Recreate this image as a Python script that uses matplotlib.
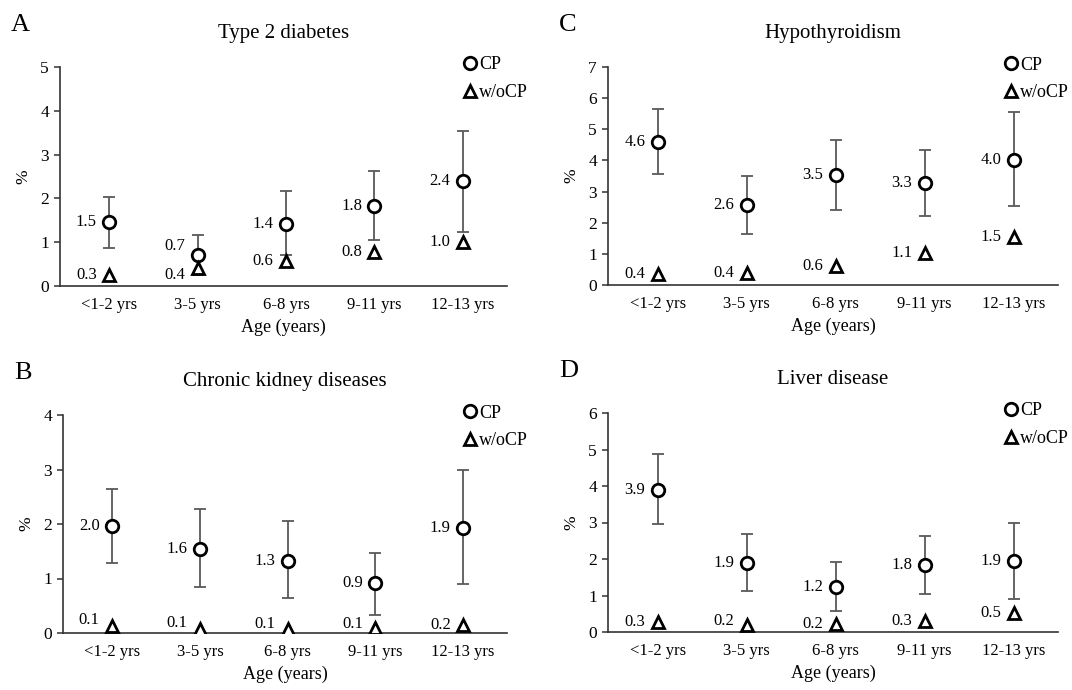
import matplotlib
matplotlib.use("Agg")
import matplotlib.pyplot as plt

plt.rcParams['font.family'] = ['Liberation Serif', 'DejaVu Serif']

ages = ["<1-2 yrs", "3-5 yrs", "6-8 yrs", "9-11 yrs", "12-13 yrs"]

# Type 2 diabetes
t2d_cp = [1.45, 0.70, 1.42, 1.82, 2.40]
t2d_cp_lo = [0.87, 0.25, 0.70, 1.04, 1.24]
t2d_cp_hi = [2.04, 1.17, 2.16, 2.62, 3.55]
t2d_wo = [0.26, 0.40, 0.58, 0.78, 1.00]
t2d_cp_lab = ["1.5", "0.7", "1.4", "1.8", "2.4"]
t2d_wo_lab = ["0.3", "0.4", "0.6", "0.8", "1.0"]

# Chronic kidney diseases
ckd_cp = [1.97, 1.55, 1.33, 0.91, 1.93]
ckd_cp_lo = [1.28, 0.84, 0.64, 0.33, 0.89]
ckd_cp_hi = [2.64, 2.27, 2.05, 1.47, 2.99]
ckd_wo = [0.13, 0.08, 0.08, 0.10, 0.14]
ckd_cp_lab = ["2.0", "1.6", "1.3", "0.9", "1.9"]
ckd_wo_lab = ["0.1", "0.1", "0.1", "0.1", "0.2"]

# Hypothyroidism
hyp_cp = [4.60, 2.57, 3.53, 3.27, 4.02]
hyp_cp_lo = [3.57, 1.65, 2.42, 2.22, 2.54]
hyp_cp_hi = [5.65, 3.50, 4.67, 4.35, 5.55]
hyp_wo = [0.35, 0.37, 0.62, 1.03, 1.53]
hyp_cp_lab = ["4.6", "2.6", "3.5", "3.3", "4.0"]
hyp_wo_lab = ["0.4", "0.4", "0.6", "1.1", "1.5"]

# Liver disease
liv_cp = [3.90, 1.88, 1.24, 1.83, 1.94]
liv_cp_lo = [2.96, 1.11, 0.58, 1.05, 0.90]
liv_cp_hi = [4.87, 2.68, 1.92, 2.62, 3.00]
liv_wo = [0.27, 0.18, 0.22, 0.30, 0.53]
liv_cp_lab = ["3.9", "1.9", "1.2", "1.8", "1.9"]
liv_wo_lab = ["0.3", "0.2", "0.2", "0.3", "0.5"]

W, H = 1072, 690
PT = 72.0 / 100  # points per pixel


def draw_panel(ax, letter, title, ymax, cp, lo, hi, wo, cp_lab, wo_lab,
               leg_x, cp_nudge=None, wo_nudge=None):
    cp_nudge = cp_nudge or {}
    wo_nudge = wo_nudge or {}
    x = list(range(len(ages)))
    err = [[c - l for c, l in zip(cp, lo)], [h - c for c, h in zip(cp, hi)]]
    ax.errorbar(x, cp, yerr=err, fmt='none', ecolor='#595959', elinewidth=1.3,
                capsize=4, capthick=1.3, zorder=1)
    ax.plot(x, cp, 'o', ms=9, mfc='white', mec='black', mew=2, ls='none',
            label='CP', zorder=3)
    ax.plot(x, wo, '^', ms=8, mfc='white', mec='black', mew=2, ls='none',
            label='w/oCP', zorder=3)
    for i, (v, s) in enumerate(zip(cp, cp_lab)):
        dy = cp_nudge.get(i, 0)
        ax.annotate(s, (i, v), xytext=(-9, dy * PT), textcoords='offset points',
                    ha='right', va='center', fontsize=12, zorder=4)
    for i, (v, s) in enumerate(zip(wo, wo_lab)):
        dy = wo_nudge.get(i, 0)
        ax.annotate(s, (i, v), xytext=(-9, dy * PT), textcoords='offset points',
                    ha='right', va='center', fontsize=12, zorder=4)

    ax.set_xlim(-0.56, 4.5)
    ax.set_ylim(0, ymax)
    ax.set_yticks(range(ymax + 1))
    ax.set_xticks(x)
    ax.set_xticklabels(ages)
    ax.tick_params(axis='x', length=0, labelsize=12, pad=8)
    ax.tick_params(axis='y', length=4, width=1.1, labelsize=12.5, pad=4,
                   color='#333333')
    for s in ['top', 'right']:
        ax.spines[s].set_visible(False)
    for s in ['left', 'bottom']:
        ax.spines[s].set_color('#333333')
        ax.spines[s].set_linewidth(1.2)
    ax.set_ylabel('%', fontsize=12.5, labelpad=6)
    ax.set_xlabel('Age (years)', fontsize=13, labelpad=4)
    ax.set_title(title, fontsize=15, pad=21)
    ax.annotate(letter, (0, 1), xycoords='axes fraction',
                xytext=(-49 * PT, 42 * PT), textcoords='offset points',
                fontsize=19, ha='left', va='center')
    # legend: marker centre sits leg_x pixels from the axes left edge
    ax_w = ax.get_position().width * W
    ax.legend(loc='upper left', bbox_to_anchor=((leg_x - 9) / ax_w, 1.048),
              frameon=False, fontsize=13, handletextpad=0.0,
              labelspacing=0.6, handlelength=1.0, borderaxespad=0,
              borderpad=0)


fig = plt.figure(figsize=(10.72, 6.9), dpi=100)


def box(l, r, b, t):
    return [l / W, 1 - b / H, (r - l) / W, (b - t) / H]


axA = fig.add_axes(box(60, 507, 286, 67))
axC = fig.add_axes(box(608, 1058, 285, 67))
axB = fig.add_axes(box(63, 507, 633, 415))
axD = fig.add_axes(box(608, 1058, 632, 413))

draw_panel(axA, 'A', 'Type 2 diabetes', 5, t2d_cp, t2d_cp_lo, t2d_cp_hi,
           t2d_wo, t2d_cp_lab, t2d_wo_lab, leg_x=410,
           cp_nudge={1: 9}, wo_nudge={1: -7})
draw_panel(axC, 'C', 'Hypothyroidism', 7, hyp_cp, hyp_cp_lo, hyp_cp_hi,
           hyp_wo, hyp_cp_lab, hyp_wo_lab, leg_x=403)
draw_panel(axB, 'B', 'Chronic kidney diseases', 4, ckd_cp, ckd_cp_lo,
           ckd_cp_hi, ckd_wo, ckd_cp_lab, ckd_wo_lab, leg_x=407,
           wo_nudge={0: 6, 1: 6, 2: 5, 3: 4})
draw_panel(axD, 'D', 'Liver disease', 6, liv_cp, liv_cp_lo, liv_cp_hi,
           liv_wo, liv_cp_lab, liv_wo_lab, leg_x=403, wo_nudge={1: 4})

fig.savefig('out.png', dpi=100, facecolor='white')
